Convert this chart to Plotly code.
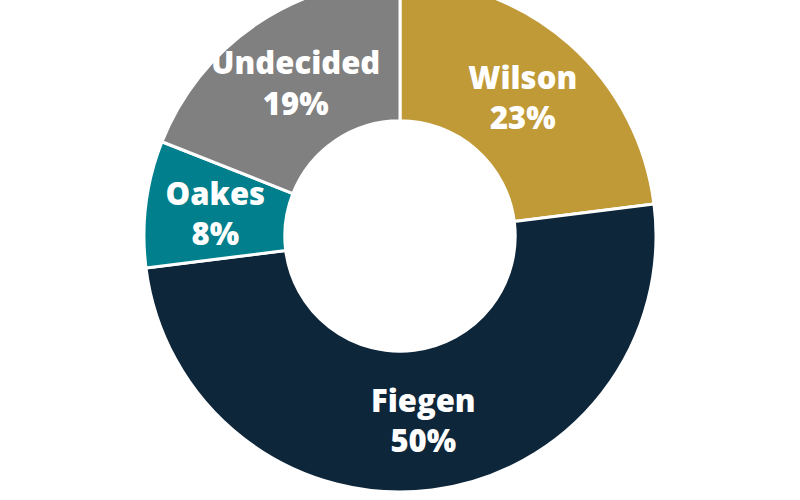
import plotly.graph_objects as go

# poll shares
candidates = ["Wilson", "Fiegen", "Oakes", "Undecided"]
shares = [23, 50, 8, 19]
colors = ["#C19A38", "#0E263A", "#017F8C", "#808080"]

# plotly pushes the label of a thin slice to its outer rim; the reference keeps it
# at mid-ring, so that label goes on a transparent copy of the ring drawn smaller
thin = ["Oakes"]
ring_text = ["" if c in thin else f"{c}<br>{v}%" for c, v in zip(candidates, shares)]
thin_text = [f"{c}<br>{v}%" if c in thin else "" for c, v in zip(candidates, shares)]

font = dict(family="Open Sans", size=31, color="white", weight=800)

fig = go.Figure()
fig.add_trace(
    go.Pie(
        labels=candidates,
        values=shares,
        hole=0.45,
        sort=False,
        direction="clockwise",
        rotation=0,
        marker=dict(colors=colors, line=dict(color="white", width=3)),
        text=ring_text,
        texttemplate="%{text}",
        textposition="inside",
        insidetextorientation="horizontal",
        insidetextfont=font,
        hoverinfo="label+percent",
        domain=dict(x=[0, 1], y=[8 / 520, 1]),
    )
)
fig.add_trace(
    go.Pie(
        labels=candidates,
        values=shares,
        hole=0.5,
        sort=False,
        direction="clockwise",
        rotation=0,
        marker=dict(colors=["rgba(0,0,0,0)"] * len(shares), line=dict(width=0)),
        text=thin_text,
        texttemplate="%{text}",
        textposition="inside",
        insidetextorientation="horizontal",
        insidetextfont=font,
        hoverinfo="skip",
        domain=dict(x=[0, 1], y=[0.0606, 0.9548]),
    )
)

fig.update_layout(
    width=800,
    height=520,
    margin=dict(l=0, r=0, t=0, b=0),
    showlegend=False,
    paper_bgcolor="white",
    plot_bgcolor="white",
    uniformtext=dict(mode="show", minsize=31),
)

# the donut in the reference runs off the top edge of the picture
shift = "document.body.style.margin='0';document.getElementById('{plot_id}').style.marginTop='-20px';"
fig.write_html("out.html", post_script=shift, config={"displayModeBar": False})
